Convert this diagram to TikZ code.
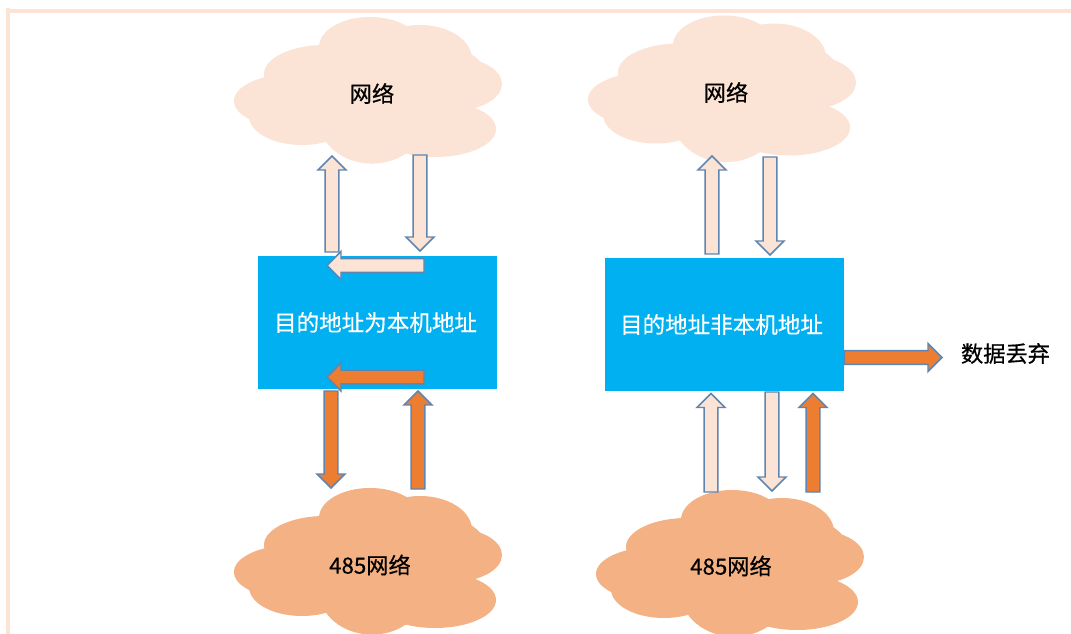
\documentclass[tikz,border=0pt]{standalone}
\usepackage{fontspec}
\setmainfont[FakeBold=0.5]{Noto Sans CJK SC}
\usetikzlibrary{calc}
\definecolor{beige}{HTML}{FBE3D5}
\definecolor{peach}{HTML}{F4B183}
\definecolor{boxblue}{HTML}{00B0F0}
\definecolor{flow}{HTML}{ED7D31}
\definecolor{edge}{HTML}{5F86B0}
\tikzset{
  x=0.75pt,y=-0.75pt,
  cloudlabel/.style={inner sep=0pt,font=\fontsize{16.7pt}{18pt}\selectfont,text=black},
  hostbox/.style={draw=none,fill=boxblue,inner sep=0pt,minimum width=179.25pt,minimum height=99.75pt,
    text=white,font=\fontsize{16.9pt}{18pt}\selectfont},
  pale/.style={fill=beige,draw=edge,line width=1.1pt,line join=miter},
  hot/.style={fill=flow,draw=edge,line width=1.1pt,line join=miter},
  framebar/.style={fill=beige,draw=none}
}
% block arrow from named coordinate #1 to named coordinate #2, style #3
\newcommand{\blockarrow}[3]{%
  \coordinate (hb) at ($(#2)!10.5pt!(#1)$);
  \draw[#3] ($(#1)!5.2pt!90:(#2)$) -- ($(hb)!5.2pt!90:(#2)$) -- ($(hb)!10.5pt!90:(#2)$) -- (#2)
    -- ($(hb)!10.5pt!-90:(#2)$) -- ($(hb)!5.2pt!-90:(#2)$) -- ($(#1)!5.2pt!-90:(#2)$) -- cycle;}
% cloud at offset (#1,#2), colour #3
\newcommand{\netcloud}[3]{%
  \begin{scope}[shift={(#1,#2)}]
    \fill[#3] (293,101) ellipse [x radius=59,y radius=27];
    \fill[#3] (325,74) ellipse [x radius=61,y radius=29];
    \fill[#3] (370,47) ellipse [x radius=51,y radius=30];
    \fill[#3] (420,59) ellipse [x radius=52,y radius=34];
    \fill[#3] (445,80) ellipse [x radius=42,y radius=33];
    \fill[#3] (452,84) ellipse [x radius=50,y radius=27];
    \fill[#3] (435,129) ellipse [x radius=61,y radius=28];
    \fill[#3] (372,120) ellipse [x radius=53,y radius=43.6];
    \fill[#3] (302,116) ellipse [x radius=53,y radius=29];
    \fill[#3] (300,60) rectangle (440,130);
  \end{scope}}
\begin{document}
\begin{tikzpicture}
\useasboundingbox (0,0) rectangle (1071,634);
\fill[white] (0,0) rectangle (1071,634);
\fill[framebar] (6,8) rectangle (10,634);
\fill[framebar] (6,9) rectangle (1071,13);

\netcloud{0}{0}{beige}
\netcloud{354}{-1.5}{beige}
\netcloud{0}{471}{peach}
\netcloud{362}{473}{peach}

\node[cloudlabel] (netA) at (372,93.5) {网络};
\node[cloudlabel] (netB) at (726,92.5) {网络};
\node[cloudlabel] (rsA) at (370,565) {485网络};
\node[cloudlabel] (rsB) at (731,566) {485网络};
\node[hostbox] (hostA) at (377,322.5) {目的地址为本机地址\kern2.2pt};
\node[hostbox] (hostB) at (724.5,324.5) {目的地址非本机地址\kern4.5pt};
\node[cloudlabel] (drop) at (1005.5,353.5) {数据丢弃};

% left column
\coordinate (a1s) at (332,252); \coordinate (a1e) at (332,156);
\coordinate (a2s) at (420,155); \coordinate (a2e) at (420,251);
\coordinate (a3s) at (424,265.5); \coordinate (a3e) at (327,265.5);
\coordinate (a4s) at (424,377); \coordinate (a4e) at (327,377);
\coordinate (a5s) at (331,391); \coordinate (a5e) at (331,488);
\coordinate (a6s) at (418,489); \coordinate (a6e) at (418,391);
\blockarrow{a1s}{a1e}{pale}
\blockarrow{a2s}{a2e}{pale}
\blockarrow{a3s}{a3e}{pale}
\blockarrow{a4s}{a4e}{hot}
\blockarrow{a5s}{a5e}{hot}
\blockarrow{a6s}{a6e}{hot}

% right column
\coordinate (b1s) at (712,254); \coordinate (b1e) at (712,156);
\coordinate (b2s) at (770,157); \coordinate (b2e) at (770,255);
\coordinate (b3s) at (711,492); \coordinate (b3e) at (711,393.5);
\coordinate (b4s) at (772,392); \coordinate (b4e) at (772,491);
\coordinate (b5s) at (813,492); \coordinate (b5e) at (813,393.5);
\coordinate (b6e) at (942,357.5);
\blockarrow{b1s}{b1e}{pale}
\blockarrow{b2s}{b2e}{pale}
\blockarrow{b3s}{b3e}{pale}
\blockarrow{b4s}{b4e}{pale}
\blockarrow{b5s}{b5e}{hot}
\coordinate (b6s) at (hostB.east |- b6e);
\blockarrow{b6s}{b6e}{hot}
\end{tikzpicture}
\end{document}
